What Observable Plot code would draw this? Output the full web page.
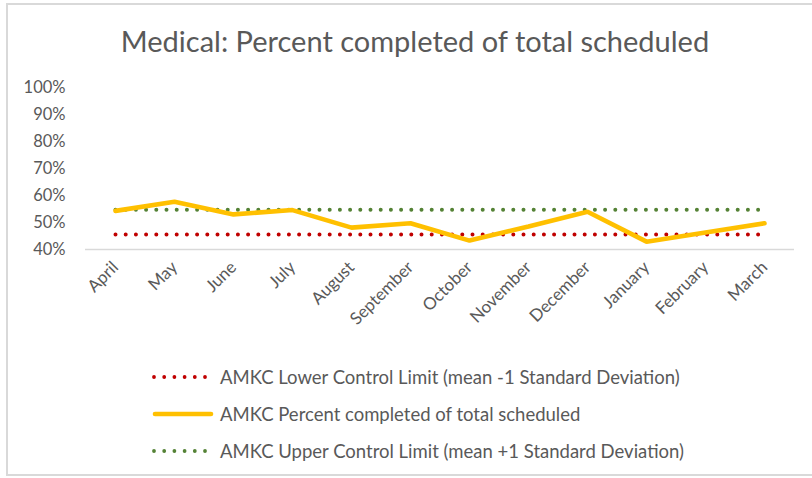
<!DOCTYPE html>
<html>
<head>
<meta charset="utf-8">
<script src="https://cdn.jsdelivr.net/npm/d3@7"></script>
<script src="https://cdn.jsdelivr.net/npm/@observablehq/plot@0.6"></script>
<style>
  html, body { margin: 0; padding: 0; background: #fff; }
  #wrap { position: relative; width: 812px; height: 478px; overflow: hidden; font-family: Lato, "Open Sans", sans-serif; color: #595959; }
  #frame { position: absolute; left: 6px; top: 3px; width: 900px; height: 473px; border: 2px solid #d9d9d9; box-sizing: border-box; pointer-events: none; }
  #title { height: 62px; line-height: 62px; padding-top: 10px; box-sizing: border-box; text-align: center; font-size: 29px; padding-left: 18px; }
  #chart svg { display: block; }
  #legend { padding-top: 6px; }
  .row { height: 37px; display: flex; align-items: center; font-size: 18.5px; }
  .row svg { margin-left: 152px; margin-right: 6px; }
</style>
</head>
<body>
<div id="wrap">
  <div id="frame"></div>
  <div id="title">Medical: Percent completed of total scheduled</div>
  <div id="chart"></div>
  <div id="legend"></div>
</div>
<script>
const months = ["April","May","June","July","August","September","October","November","December","January","February","March"];
const percentCompleted = [0.543, 0.577, 0.530, 0.546, 0.481, 0.497, 0.433, 0.485, 0.540, 0.429, 0.463, 0.497];
const lowerLimit = [0.456, 0.456, 0.456, 0.456, 0.456, 0.456, 0.456, 0.456, 0.456, 0.456, 0.456, 0.456];
const upperLimit = [0.547, 0.547, 0.547, 0.547, 0.547, 0.547, 0.547, 0.547, 0.547, 0.547, 0.547, 0.547];
const yTicks = [0.4, 0.5, 0.6, 0.7, 0.8, 0.9, 1.0];
const seriesNames = [
  "AMKC Lower Control Limit (mean -1 Standard Deviation)",
  "AMKC Percent completed of total scheduled",
  "AMKC Upper Control Limit (mean +1 Standard Deviation)"
];
const seriesColors = ["#C00000", "#FFC000", "#548235"];

const rows = months.map((m, i) => ({month: m, pct: percentCompleted[i], lo: lowerLimit[i], hi: upperLimit[i]}));

const chart = Plot.plot({
  width: 812,
  height: 290,
  marginLeft: 85,
  marginRight: 18,
  marginTop: 25,
  marginBottom: 103,
  style: {fontFamily: "Lato, 'Open Sans', sans-serif", color: "#595959", background: "transparent"},
  x: {type: "point", domain: months, padding: 0.5},
  y: {domain: [0.4, 1.0]},
  marks: [
    Plot.ruleY([0.4], {stroke: "#d9d9d9", strokeWidth: 1.5}),
    Plot.axisY({ticks: yTicks, tickFormat: d3.format(".0%"), tickSize: 0, tickPadding: 20, fontSize: 16.5, fill: "#595959"}),
    Plot.axisX({tickRotate: -45, tickSize: 0, tickPadding: 15, fontSize: 17, fill: "#595959", label: null}),
    Plot.lineY(rows, {x: "month", y: "lo", stroke: seriesColors[0], strokeWidth: 4, strokeDasharray: "0 10.2", strokeLinecap: "round"}),
    Plot.lineY(rows, {x: "month", y: "hi", stroke: seriesColors[2], strokeWidth: 4, strokeDasharray: "0 10.2", strokeLinecap: "round"}),
    Plot.lineY(rows, {x: "month", y: "pct", stroke: seriesColors[1], strokeWidth: 4.6, strokeLinecap: "round", strokeLinejoin: "miter"})
  ]
});
document.getElementById("chart").appendChild(chart);

const legend = document.getElementById("legend");
seriesNames.forEach((name, i) => {
  const row = document.createElement("div");
  row.className = "row";
  const dotted = i !== 1;
  const sw = dotted
    ? `<svg width="62" height="10"><line x1="2" y1="5" x2="54" y2="5" stroke="${seriesColors[i]}" stroke-width="3.8" stroke-linecap="round" stroke-dasharray="0 10.2"/></svg>`
    : `<svg width="62" height="10"><line x1="3" y1="5" x2="59" y2="5" stroke="${seriesColors[i]}" stroke-width="4.6" stroke-linecap="round"/></svg>`;
  row.innerHTML = sw + `<span>${name}</span>`;
  legend.appendChild(row);
});
</script>
</body>
</html>
